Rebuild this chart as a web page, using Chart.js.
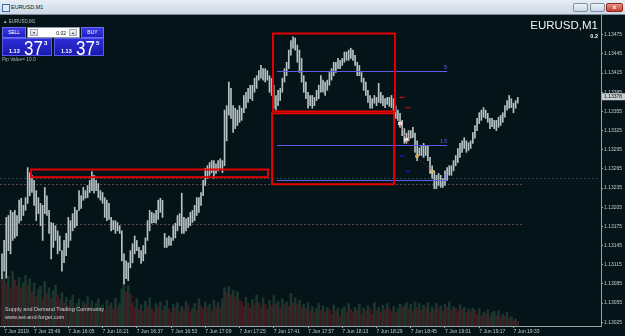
<!DOCTYPE html>
<html>
<head>
<meta charset="utf-8">
<script src="https://cdn.jsdelivr.net/npm/chart.js@4.4.1/dist/chart.umd.min.js"></script>
<style>
  body { margin: 0; width: 625px; height: 336px; overflow: hidden; background: #041419; position: relative; font-family: "Liberation Sans", Arial, sans-serif; }
  #titlebar { position: absolute; left: 0; top: 0; width: 625px; height: 15px; box-sizing: border-box; background: linear-gradient(#e6edf5, #cdd8e5); border-bottom: 1px solid #7d8a99; }
  #titlebar .ico { position: absolute; left: 2px; top: 4px; width: 6px; height: 6px; border: 1px solid #3a6ea8; background: #dfeaf6; }
  #titlebar .ttl { position: absolute; left: 11px; top: 4px; font-size: 5.5px; color: #111; }
  #titlebar .btn { position: absolute; top: 3px; width: 15px; height: 9px; border-radius: 2px; border: 1px solid #7f8fa3; background: linear-gradient(#eef3f8, #c9d5e3); box-sizing: border-box; }
  #titlebar .b1 { left: 573px; } #titlebar .b2 { left: 590px; }
  #titlebar .b3 { left: 606px; width: 17px; background: linear-gradient(#e8958a, #c4412f); border-color: #8f2a1e; color: #fff; font-size: 6px; text-align: center; line-height: 7px; font-weight: bold; }
  #wrap { position: absolute; left: 0; top: 15px; width: 625px; height: 321px; }
  .lbl { position: absolute; color: #c9cfd1; white-space: nowrap; }
  #sym { left: 3px; top: 19px; font-size: 4.5px; color: #b8c0c4; }
  .btnb { position: absolute; top: 27px; height: 11px; box-sizing: border-box; background: linear-gradient(#3a3ae0, #2020c4); border: 1px solid #6d6df2; color: #fff; font-size: 5px; text-align: center; line-height: 9px; }
  #sell { left: 2px; width: 24px; }
  #buy { left: 81px; width: 23px; }
  #lot { position: absolute; left: 27px; top: 27px; width: 53px; height: 11px; box-sizing: border-box; background: #fff; border: 1px solid #8a96a8; font-size: 5px; color: #000; }
  #lot .a { position: absolute; top: 1px; width: 8px; height: 7px; background: linear-gradient(#f2f4f8, #cfd6e0); border: 1px solid #a0aabb; box-sizing: border-box; font-size: 4px; text-align: center; line-height: 5px; color: #334; }
  #lot .al { left: 2px; } #lot .ar { right: 2px; }
  #lot .v { position: absolute; right: 13px; top: 2px; }
  .pbox { position: absolute; top: 38px; height: 18px; box-sizing: border-box; background: linear-gradient(#2d2dd8, #1a1ab0); border: 1px solid #5a5ae8; color: #fff; }
  #pb1 { left: 2px; width: 50px; } #pb2 { left: 54px; width: 50px; }
  .pbox .sm { position: absolute; left: 6px; top: 9px; font-size: 5.5px; font-weight: bold; }
  .pbox .big { position: absolute; left: 21px; top: -2px; font-size: 20px; transform: scaleX(0.85); transform-origin: left top; }
  .pbox .sup { position: absolute; left: 41px; top: 1px; font-size: 6px; font-weight: bold; }
  #pip { left: 2px; top: 57px; font-size: 4.8px; color: #a9b2b6; }
  #bigsym { right: 27px; top: 19px; font-size: 11.5px; color: #f2f4f4; }
  #zoomv { right: 27px; top: 33px; font-size: 5.5px; color: #f2f4f4; font-weight: bold; }
  #wm { left: 5px; top: 305px; font-size: 5.5px; line-height: 8px; color: #c9cfd1; }
</style>
</head>
<body>
<div id="titlebar"><span class="ico"></span><span class="ttl">EURUSD,M1</span>
  <div class="btn b1"></div><div class="btn b2"></div><div class="btn b3">x</div></div>
<div id="wrap"><canvas id="chart"></canvas></div>
<div id="sym" class="lbl">&#9650; EURUSD,M1</div>
<div id="sell" class="btnb">SELL</div>
<div id="lot"><span class="a al">&#9662;</span><span class="v">0.02</span><span class="a ar">&#9652;</span></div>
<div id="buy" class="btnb">BUY</div>
<div id="pb1" class="pbox"><span class="sm">1.13</span><span class="big">37</span><span class="sup">3</span></div>
<div id="pb2" class="pbox"><span class="sm">1.13</span><span class="big">37</span><span class="sup">5</span></div>
<div id="pip" class="lbl">Pip Value= 10.0</div>
<div id="bigsym" class="lbl">EURUSD,M1</div>
<div id="zoomv" class="lbl">0.2</div>
<div id="wm" class="lbl">Supply and Demand Trading Community<br>www.set-and-forget.com</div>

<script>
// M1 bars, index 0 = 15:34 on 7 Jun 2019
const highs = [
  1.13132,1.13153,1.13189,1.13192,1.13200,1.13197,1.13200,1.13192,1.13216,1.13219,
  1.13208,1.13220,1.13267,1.13259,1.13255,1.13247,1.13231,1.13220,1.13211,1.13208,
  1.13236,1.13223,1.13200,1.13181,1.13180,1.13176,1.13168,1.13160,1.13137,1.13153,
  1.13164,1.13189,1.13184,1.13195,1.13205,1.13200,1.13231,1.13223,1.13236,1.13231,
  1.13239,1.13247,1.13261,1.13255,1.13247,1.13242,1.13231,1.13228,1.13220,1.13216,
  1.13211,1.13189,1.13184,1.13184,1.13181,1.13176,1.13168,1.13132,1.13121,1.13118,
  1.13137,1.13148,1.13160,1.13153,1.13142,1.13137,1.13145,1.13157,1.13184,1.13200,
  1.13197,1.13195,1.13200,1.13216,1.13219,1.13216,1.13164,1.13157,1.13160,1.13157,
  1.13176,1.13180,1.13192,1.13195,1.13227,1.13189,1.13187,1.13189,1.13197,1.13200,
  1.13208,1.13220,1.13220,1.13228,1.13247,1.13266,1.13270,1.13275,1.13278,1.13278,
  1.13273,1.13278,1.13281,1.13278,1.13357,1.13364,1.13401,1.13391,1.13364,1.13360,
  1.13357,1.13364,1.13360,1.13380,1.13385,1.13391,1.13396,1.13396,1.13407,1.13411,
  1.13419,1.13427,1.13422,1.13422,1.13419,1.13411,1.13407,1.13396,1.13380,1.13388,
  1.13391,1.13407,1.13422,1.13432,1.13451,1.13466,1.13472,1.13470,1.13459,1.13451,
  1.13438,1.13411,1.13401,1.13385,1.13380,1.13380,1.13377,1.13388,1.13396,1.13411,
  1.13404,1.13401,1.13404,1.13416,1.13422,1.13432,1.13432,1.13438,1.13435,1.13438,
  1.13448,1.13448,1.13451,1.13454,1.13451,1.13443,1.13432,1.13427,1.13416,1.13407,
  1.13401,1.13388,1.13380,1.13375,1.13380,1.13377,1.13399,1.13385,1.13380,1.13375,
  1.13377,1.13377,1.13380,1.13375,1.13364,1.13357,1.13352,1.13341,1.13328,1.13321,
  1.13325,1.13325,1.13330,1.13321,1.13309,1.13298,1.13302,1.13305,1.13302,1.13302,
  1.13283,1.13270,1.13262,1.13255,1.13258,1.13255,1.13250,1.13262,1.13267,1.13270,
  1.13270,1.13278,1.13286,1.13297,1.13305,1.13309,1.13314,1.13309,1.13306,1.13309,
  1.13322,1.13333,1.13344,1.13353,1.13357,1.13361,1.13357,1.13352,1.13344,1.13344,
  1.13341,1.13341,1.13346,1.13349,1.13353,1.13364,1.13372,1.13380,1.13375,1.13368,
  1.13372,1.13377
];
const lows = [
  1.13093,1.13105,1.13094,1.13137,1.13132,1.13153,1.13157,1.13160,1.13180,1.13184,
  1.13192,1.13200,1.13211,1.13223,1.13228,1.13208,1.13184,1.13195,1.13176,1.13153,
  1.13195,1.13192,1.13164,1.13124,1.13142,1.13153,1.13132,1.13137,1.13105,1.13118,
  1.13129,1.13142,1.13153,1.13168,1.13173,1.13176,1.13200,1.13203,1.13216,1.13219,
  1.13220,1.13228,1.13231,1.13227,1.13231,1.13220,1.13216,1.13211,1.13189,1.13184,
  1.13186,1.13168,1.13170,1.13164,1.13168,1.13164,1.13121,1.13085,1.13093,1.13090,
  1.13110,1.13118,1.13132,1.13137,1.13126,1.13117,1.13121,1.13132,1.13153,1.13168,
  1.13180,1.13181,1.13180,1.13186,1.13197,1.13189,1.13142,1.13142,1.13145,1.13145,
  1.13153,1.13157,1.13168,1.13176,1.13164,1.13164,1.13168,1.13173,1.13176,1.13181,
  1.13184,1.13192,1.13197,1.13208,1.13223,1.13239,1.13250,1.13255,1.13259,1.13250,
  1.13258,1.13262,1.13266,1.13259,1.13270,1.13309,1.13349,1.13344,1.13322,1.13328,
  1.13333,1.13338,1.13341,1.13353,1.13360,1.13369,1.13375,1.13372,1.13385,1.13391,
  1.13404,1.13407,1.13404,1.13401,1.13404,1.13385,1.13380,1.13360,1.13357,1.13364,
  1.13372,1.13385,1.13401,1.13411,1.13422,1.13443,1.13454,1.13451,1.13432,1.13416,
  1.13401,1.13385,1.13375,1.13360,1.13364,1.13360,1.13364,1.13372,1.13375,1.13385,
  1.13385,1.13380,1.13388,1.13396,1.13404,1.13411,1.13416,1.13422,1.13422,1.13427,
  1.13432,1.13435,1.13435,1.13438,1.13435,1.13427,1.13411,1.13411,1.13401,1.13388,
  1.13380,1.13369,1.13360,1.13360,1.13368,1.13364,1.13369,1.13368,1.13364,1.13361,
  1.13366,1.13363,1.13361,1.13353,1.13344,1.13341,1.13330,1.13317,1.13305,1.13305,
  1.13309,1.13313,1.13314,1.13291,1.13278,1.13286,1.13286,1.13283,1.13286,1.13278,
  1.13258,1.13250,1.13234,1.13234,1.13239,1.13236,1.13236,1.13239,1.13247,1.13255,
  1.13255,1.13262,1.13270,1.13275,1.13283,1.13291,1.13297,1.13291,1.13294,1.13297,
  1.13305,1.13313,1.13325,1.13336,1.13341,1.13346,1.13344,1.13338,1.13328,1.13331,
  1.13328,1.13325,1.13330,1.13333,1.13338,1.13346,1.13357,1.13360,1.13361,1.13353,
  1.13360,1.13368
];
// tick volume per bar
const volumes = [
  120,135,110,128,96,140,118,104,125,98,112,130,105,122,
  88,110,76,95,102,70,115,84,98,72,90,105,80,68,
  86,60,74,52,66,80,48,58,70,45,62,55,76,50,64,42,58,70,46,54,40,66,52,60,44,72,50,58,
  95,112,88,104,82,
  60,48,70,42,55,38,64,50,72,45,36,58,48,62,40,52,66,44,34,56,
  48,60,38,50,42,64,54,36,46,58,40,70,52,44,62,48,56,38,66,50,60,46,
  70,98,86,102,80,92,74,88,66,
  62,50,74,58,46,68,54,80,60,48,72,56,44,66,52,78,58,64,46,70,54,62,50,84,60,72,56,66,48,
  56,44,60,38,50,34,46,58,40,52,36,48,42,30,54,38,46,26,44,50,
  36,58,42,34,48,40,56,32,46,38,52,44,30,60,40,48,36,54,42,58,46,38,50,34,44,56,48,
  52,60,44,56,38,62,48,58,40,54,46,60,36,50,42,58,44,52,38,56,48,62,40,50,46,36,54,42,48,34,44,38,46,
  40,30,44,26,36,32,42,24,34,38,28,40,22,30,26,36,20,24,16,18,12
];

const priceTicks = [1.13025,1.13055,1.13085,1.13115,1.13145,1.13175,1.13205,1.13235,
  1.13265,1.13295,1.13325,1.13355,1.13385,1.13415,1.13445,1.13475];
const timeTickPos = [1,15,31,47,63,79,95,111,127,143,159,175,191,207,223,239];
const timeTickLabels = ['7 Jun 2019','7 Jun 15:49','7 Jun 16:05','7 Jun 16:21','7 Jun 16:37',
  '7 Jun 16:53','7 Jun 17:09','7 Jun 17:25','7 Jun 17:41','7 Jun 17:57','7 Jun 18:13',
  '7 Jun 18:29','7 Jun 18:45','7 Jun 19:01','7 Jun 19:17','7 Jun 19:33'];
const lastPrice = 1.13378;

// drawn objects (bar index / price)
const zoneLeft = [13.6, 126.6, 126.2];
const zoneRight = [124.3, 183.6, 183.2];
const zoneTop = [1.13264, 1.13477, 1.13352];
const zoneBottom = [1.13252, 1.13355, 1.13241];
const levelPrices = [1.13418, 1.13303, 1.13247];
const levelNames = ['.5', '1.5', '3'];
const levelFrom = 128.5, levelTo = 208;
const dotPrices = [1.13250, 1.13241, 1.13179];
const dotTo = [279, 243.5, 243.5];
const entryX = [186, 188.8, 193.9, 200.9];
const entryY = [1.13336, 1.13311, 1.13285, 1.13261];
const stopX = [186.9, 189.7];
const stopY = [1.13377, 1.13361];
const targetY = [1.13285, 1.13261];

const barData = highs.map((h, i) => ({ x: i, y: [lows[i], h] }));
const volData = volumes.map((v, i) => ({ x: i, y: v }));
const volColors = volumes.map((v, i) => (i > 0 && v > volumes[i - 1]) ? '#1c362d' : '#441a22');

const overlay = {
  id: 'overlay',
  beforeDatasetsDraw(chart) {
    const { ctx, chartArea: a, scales: { x, y } } = chart;
    ctx.save();
    ctx.lineWidth = 1;
    // dotted horizontals
    dotPrices.forEach((p, i) => {
      const py = Math.round(y.getPixelForValue(p)) + 0.5;
      ctx.strokeStyle = i === 0 ? '#1c4a48' : '#5a4652';
      ctx.setLineDash([2, 2]);
      ctx.beginPath();
      ctx.moveTo(a.left, py);
      ctx.lineTo(x.getPixelForValue(dotTo[i]), py);
      ctx.stroke();
    });
    ctx.setLineDash([]);
    ctx.restore();
  },
  afterDatasetsDraw(chart) {
    const { ctx, scales: { x, y } } = chart;
    ctx.save();
    // fib levels
    ctx.strokeStyle = '#5d5de8';
    ctx.fillStyle = '#6a6af0';
    ctx.font = '5px "Liberation Sans"';
    ctx.textAlign = 'right';
    ctx.textBaseline = 'bottom';
    levelPrices.forEach((p, i) => {
      const py = Math.round(y.getPixelForValue(p)) + 0.5;
      const x2 = x.getPixelForValue(levelTo);
      ctx.beginPath();
      ctx.moveTo(x.getPixelForValue(levelFrom), py);
      ctx.lineTo(x2, py);
      ctx.stroke();
      ctx.fillText(levelNames[i], x2, py - 1);
    });
    // zones
    ctx.strokeStyle = '#e60000';
    ctx.lineWidth = 2;
    zoneLeft.forEach((l, i) => {
      const x1 = x.getPixelForValue(l), x2 = x.getPixelForValue(zoneRight[i]);
      const y1 = y.getPixelForValue(zoneTop[i]), y2 = y.getPixelForValue(zoneBottom[i]);
      ctx.strokeRect(x1, y1, x2 - x1, y2 - y1);
    });
    ctx.restore();
  },
  afterDraw(chart) {
    const { ctx, chartArea: a, scales: { y } } = chart;
    const py = y.getPixelForValue(lastPrice);
    ctx.save();
    ctx.fillStyle = '#c9cdce';
    ctx.fillRect(a.right + 1, py - 3.5, 24, 7);
    ctx.fillStyle = '#0a1418';
    ctx.font = '5px "Liberation Sans"';
    ctx.textBaseline = 'middle';
    ctx.fillText(lastPrice.toFixed(5), a.right + 3, py);
    ctx.restore();
  }
};

const axisFont = { family: 'Liberation Sans', size: 5 };

new Chart(document.getElementById('chart'), {
  type: 'bar',
  data: {
    datasets: [
      {
        type: 'line', data: entryX.map((v, i) => ({ x: v, y: entryY[i] })),
        borderColor: '#d01818', borderWidth: 1, borderDash: [1, 2], pointRadius: 0, order: 0
      },
      {
        type: 'line', data: stopX.map((v, i) => ({ x: v, y: stopY[i] })), showLine: false,
        pointStyle: 'line', pointRadius: 2.5, borderColor: '#a01212', borderWidth: 1.5, order: 0
      },
      {
        type: 'line', data: stopX.map((v, i) => ({ x: v, y: targetY[i] })), showLine: false,
        pointStyle: 'line', pointRadius: 2.5, borderColor: '#1a1aa8', borderWidth: 1.5, order: 0
      },
      {
        type: 'line', data: entryX.slice(0, 2).map((v, i) => ({ x: v, y: entryY[i] })), showLine: false,
        pointStyle: 'rect', pointRadius: 2, backgroundColor: '#f4f4f4', borderColor: '#f4f4f4', order: 0
      },
      {
        type: 'line', data: entryX.slice(0, 2).map((v, i) => ({ x: v, y: entryY[i] })), showLine: false,
        pointStyle: 'cross', pointRadius: 2, borderColor: '#ff2020', borderWidth: 1.5, order: 0
      },
      {
        type: 'line', data: entryX.slice(2).map((v, i) => ({ x: v, y: entryY[i + 2] })), showLine: false,
        pointStyle: 'rect', pointRadius: 1.8, backgroundColor: '#f2c040', borderColor: '#f8e8a0', borderWidth: 0.5, order: 0
      },
      {
        data: barData, backgroundColor: '#b6c2c4', barThickness: 1, grouped: false, order: 1
      },
      {
        data: volData, yAxisID: 'yv', backgroundColor: volColors, barThickness: 2, grouped: false, order: 2
      }
    ]
  },
  options: {
    responsive: true,
    maintainAspectRatio: false,
    animation: false,
    devicePixelRatio: 1,
    layout: { padding: 0, autoPadding: false },
    plugins: { legend: { display: false }, tooltip: { enabled: false } },
    scales: {
      x: {
        type: 'linear', min: -0.93, max: 279.9, offset: false,
        afterBuildTicks: s => { s.ticks = timeTickPos.map(v => ({ value: v })); },
        afterFit: s => { s.height = 10; s.paddingLeft = 0; s.paddingRight = 0; },
        ticks: {
          autoSkip: false, maxRotation: 0, align: 'start', padding: 1, color: '#c3c9cb', font: axisFont,
          callback: v => timeTickLabels[timeTickPos.indexOf(v)]
        },
        grid: { drawOnChartArea: false, offset: false, tickLength: 2, color: '#9aa3a6' },
        border: { color: '#9aa3a6' }
      },
      y: {
        position: 'right', min: 1.13019, max: 1.13506,
        afterBuildTicks: s => { s.ticks = priceTicks.map(v => ({ value: v })); },
        afterFit: s => { s.width = 24; s.paddingTop = 0; s.paddingBottom = 0; },
        ticks: { padding: 1, color: '#c3c9cb', font: axisFont, callback: v => v.toFixed(5) },
        grid: { drawOnChartArea: false, tickLength: 2, color: '#9aa3a6' },
        border: { color: '#9aa3a6' }
      },
      yv: { display: false, min: 0, max: 800 }
    }
  },
  plugins: [overlay]
});
</script>
</body>
</html>
